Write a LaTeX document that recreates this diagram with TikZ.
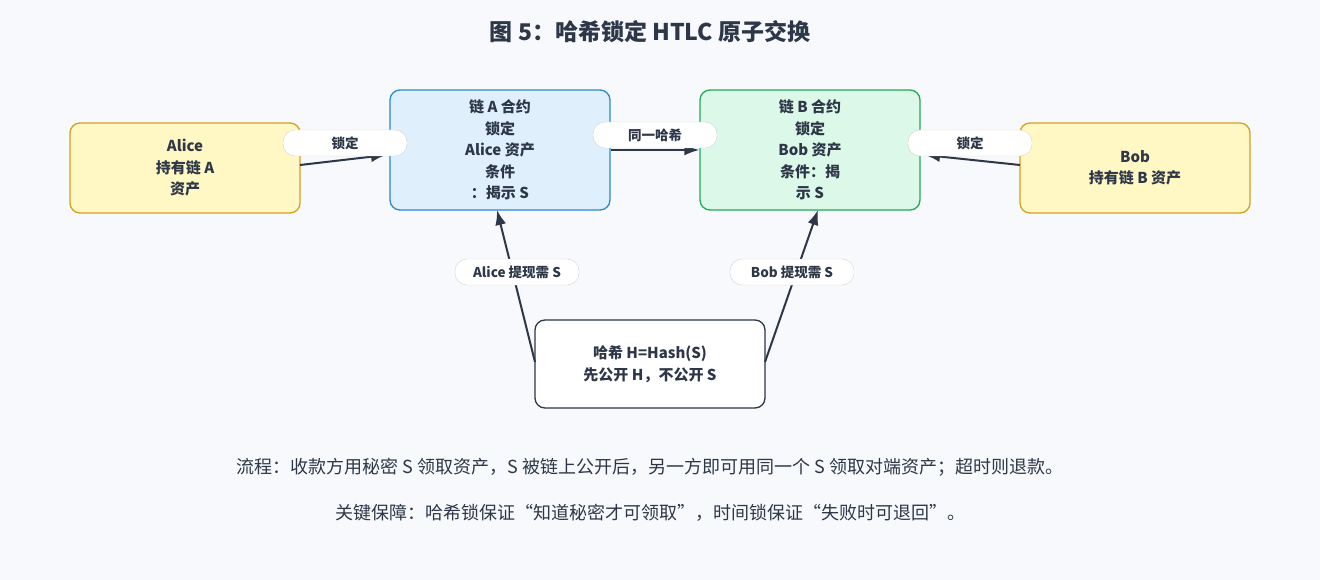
\documentclass[tikz,border=0pt]{standalone}
\usepackage{fontspec}
\setmainfont{Noto Sans CJK SC}
\usetikzlibrary{arrows.meta}
\definecolor{bg}{HTML}{F7F9FC}
\definecolor{ink}{HTML}{2D3748}
\definecolor{ylf}{HTML}{FFF8C4}\definecolor{yld}{HTML}{D4A020}
\definecolor{blf}{HTML}{DFF0FC}\definecolor{bld}{HTML}{2A8ACB}
\definecolor{grf}{HTML}{DCF8E8}\definecolor{grd}{HTML}{22AA55}
\begin{document}
\begin{tikzpicture}[x=1pt,y=-1pt,
 box/.style={draw,rounded corners=10pt,line width=1.3pt,align=center,font=\fontsize{15}{21.5}\selectfont\bfseries,text=ink,inner sep=0pt},
 pill/.style={draw=gray!35,fill=white,rounded corners=12pt,minimum height=26pt,font=\fontsize{13.5}{15}\selectfont\bfseries,text=ink,inner sep=0pt},
 arr/.style={draw=ink,line width=2pt,-{Latex[length=15pt,width=11pt]}}]
\fill[bg] (0,0) rectangle (1320,580);
\useasboundingbox (0,0) rectangle (1320,580);
\node[font=\fontsize{23}{26}\selectfont\bfseries,text=ink] (title) at (650,32) {图 5：哈希锁定 HTLC 原子交换};
\node[box,fill=ylf,draw=yld,minimum width=230pt,minimum height=90pt] (alice) at (185,168) {Alice\\持有链 A\\资产};
\node[box,fill=blf,draw=bld,minimum width=220pt,minimum height=120pt] (ca) at (500,150) {链 A 合约\\锁定\\Alice 资产\\条件\\：揭示 S};
\node[box,fill=grf,draw=grd,minimum width=220pt,minimum height=120pt] (cb) at (810,150) {链 B 合约\\锁定\\Bob 资产\\条件：揭\\示 S};
\node[box,fill=ylf,draw=yld,minimum width=230pt,minimum height=90pt] (bob) at (1135,168) {Bob\\持有链 B 资产};
\node[box,fill=white,draw=ink,minimum width=230pt,minimum height=88pt] (hash) at (650,364) {哈希 H=Hash(S)\\先公开 H，不公开 S};
\coordinate (a1) at (300,165); \coordinate (a2) at (386,155);
\draw[arr] (a1) -- (a2);
\coordinate (b1) at (1020,165); \coordinate (b2) at (925,155);
\draw[arr] (b1) -- (b2);
\draw[arr] (ca.east |- 0,150) -- (cb.west |- 0,150);
\coordinate (h1) at (535,362); \coordinate (h2) at (765,362);
\draw[arr] (h1) -- (497,210);
\draw[arr] (h2) -- (818,210);
\node[pill,minimum width=124pt] (l1) at (345,143) {锁定};
\node[pill,minimum width=124pt] (l2) at (655,135) {同一哈希};
\node[pill,minimum width=124pt] (l3) at (970,143) {锁定};
\node[pill,minimum width=124pt] (l4) at (517,272) {Alice 提现需 S};
\node[pill,minimum width=124pt] (l5) at (792,272) {Bob 提现需 S};
\node[font=\fontsize{18}{22}\selectfont,text=ink] (c1) at (650,467) {流程：收款方用秘密 S 领取资产，S 被链上公开后，另一方即可用同一个 S 领取对端资产；超时则退款。};
\node[font=\fontsize{18}{22}\selectfont,text=ink] (c2) at (650,513) {关键保障：哈希锁保证“知道秘密才可领取”，时间锁保证“失败时可退回”。};
\end{tikzpicture}
\end{document}
